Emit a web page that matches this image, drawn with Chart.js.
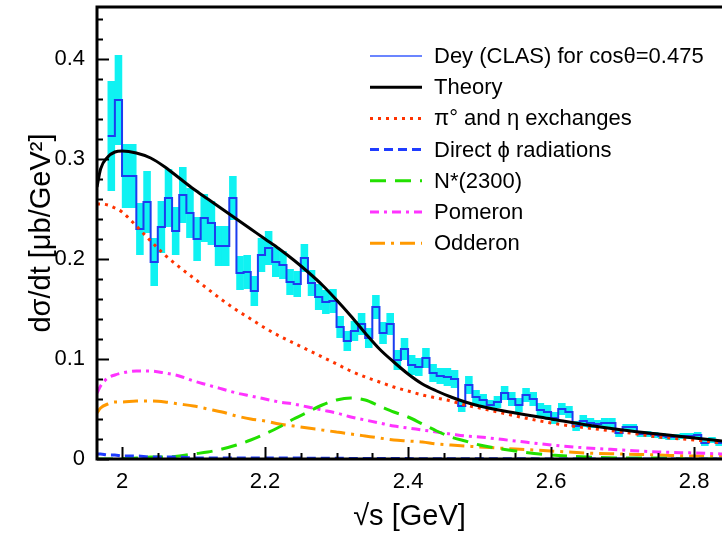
<!DOCTYPE html>
<html>
<head>
<meta charset="utf-8">
<title>phi photoproduction</title>
<script src="https://cdn.jsdelivr.net/npm/chart.js@4.4.1/dist/chart.umd.min.js"></script>
<style>
  html, body { margin: 0; padding: 0; background: #fff; }
  #wrap { width: 722px; height: 534px; overflow: hidden; }
</style>
</head>
<body>
<div id="wrap"><canvas id="dsdtChart" width="722" height="534"></canvas></div>
<script>
// CLAS (Dey) bins, 10 MeV wide starting at sqrt(s) = 1.98 GeV
const binStart = 1.98
const binWidth = 0.01
const clasValues = [
    0.323, 0.359, 0.283, 0.283, 0.230, 0.257, 0.197, 0.232, 0.261, 0.228,
    0.264, 0.246, 0.220, 0.241, 0.236, 0.213, 0.213, 0.261, 0.186, 0.187,
    0.168, 0.204, 0.211, 0.197, 0.194, 0.177, 0.175, 0.201, 0.176, 0.162,
    0.157, 0.158, 0.132, 0.118, 0.128, 0.135, 0.121, 0.152, 0.126, 0.135,
    0.099, 0.110, 0.094, 0.092, 0.101, 0.086, 0.083, 0.082, 0.080, 0.053,
    0.074, 0.062, 0.059, 0.054, 0.057, 0.066, 0.060, 0.054, 0.064, 0.060,
    0.049, 0.047, 0.041, 0.050, 0.047, 0.033, 0.038, 0.036, 0.035, 0.036,
    0.036, 0.026, 0.032, 0.032, 0.025, 0.025, 0.024, 0.023, 0.022, 0.022,
    0.023, 0.023, 0.024, 0.016, 0.019, 0.016
]
const clasErrors = [
    0.055, 0.045, 0.032, 0.032, 0.026, 0.031, 0.024, 0.026, 0.029, 0.024,
    0.028, 0.025, 0.022, 0.024, 0.022, 0.020, 0.020, 0.022, 0.017, 0.017,
    0.015, 0.017, 0.017, 0.015, 0.014, 0.013, 0.013, 0.014, 0.013, 0.013,
    0.012, 0.012, 0.011, 0.010, 0.010, 0.011, 0.010, 0.012, 0.011, 0.011,
    0.010, 0.011, 0.010, 0.009, 0.010, 0.009, 0.008, 0.009, 0.009, 0.006,
    0.009, 0.007, 0.006, 0.005, 0.006, 0.007, 0.007, 0.007, 0.007, 0.007,
    0.007, 0.007, 0.006, 0.006, 0.006, 0.005, 0.006, 0.005, 0.004, 0.005,
    0.005, 0.004, 0.003, 0.003, 0.003, 0.003, 0.003, 0.003, 0.003, 0.003,
    0.003, 0.003, 0.003, 0.003, 0.003, 0.003
]

// model curves, all sampled on the same sqrt(s) grid
const curveW = [1.965, 1.97, 1.98, 1.99, 2.00,
    2.02, 2.04, 2.06, 2.08, 2.10, 2.12, 2.14, 2.16, 2.18, 2.20, 2.22, 2.24, 2.26,
    2.28, 2.30, 2.32, 2.34, 2.36, 2.38, 2.40, 2.42, 2.44, 2.46, 2.48, 2.50,
    2.55, 2.60, 2.65, 2.70, 2.75, 2.80, 2.84]
const theory = [0.272, 0.290, 0.302, 0.307, 0.308,
    0.306, 0.301, 0.292, 0.281, 0.270, 0.260, 0.250, 0.240, 0.230, 0.220, 0.210, 0.199, 0.187,
    0.174, 0.159, 0.143, 0.126, 0.110, 0.097, 0.085, 0.075, 0.068, 0.062, 0.057, 0.053,
    0.046, 0.040, 0.034, 0.029, 0.025, 0.021, 0.018]
const pionEta = [0.255, 0.255, 0.254, 0.251, 0.247,
    0.233, 0.218, 0.204, 0.192, 0.181, 0.170, 0.159, 0.149, 0.140, 0.131, 0.123, 0.116, 0.109,
    0.102, 0.095, 0.088, 0.082, 0.077, 0.072, 0.068, 0.064, 0.061, 0.058, 0.054, 0.051,
    0.043, 0.036, 0.031, 0.027, 0.022, 0.019, 0.016]
const directPhi = [0.005, 0.005, 0.004, 0.004, 0.003,
    0.003, 0.002, 0.002, 0.002, 0.001, 0.001, 0.001, 0.001, 0.001, 0.001, 0.001, 0.001, 0.0008,
    0.0008, 0.0007, 0.0006, 0.0005, 0.0005, 0.0004, 0.0004, 0.0003, 0.0003, 0.0003, 0.0002, 0.0002,
    0.0002, 0.0001, 0.0001, 0.0001, 0.0001, 0.0001, 0.0001]
const nStar = [0, 0, 0, 0, 0.0005,
    0.001, 0.002, 0.002, 0.003, 0.005, 0.007, 0.010, 0.014, 0.019, 0.025, 0.032, 0.040, 0.047,
    0.054, 0.059, 0.061, 0.059, 0.053, 0.047, 0.042, 0.035, 0.028, 0.022, 0.018, 0.014,
    0.008, 0.004, 0.002, 0.001, 0.001, 0, 0]
const pomeron = [0.066, 0.073, 0.081, 0.084, 0.086,
    0.088, 0.088, 0.086, 0.083, 0.078, 0.074, 0.070, 0.066, 0.063, 0.060, 0.057, 0.055, 0.052,
    0.049, 0.046, 0.042, 0.039, 0.036, 0.033, 0.031, 0.029, 0.027, 0.025, 0.023, 0.022,
    0.018, 0.014, 0.011, 0.009, 0.007, 0.006, 0.005]
const odderon = [0.046, 0.051, 0.055, 0.057, 0.057,
    0.058, 0.058, 0.057, 0.055, 0.053, 0.050, 0.047, 0.043, 0.040, 0.038, 0.035, 0.033, 0.031,
    0.029, 0.027, 0.025, 0.023, 0.021, 0.019, 0.018, 0.017, 0.015, 0.014, 0.013, 0.012,
    0.010, 0.008, 0.006, 0.005, 0.004, 0.003, 0.003]

const xTicks = [2, 2.2, 2.4, 2.6, 2.8]
const yTicks = [0, 0.1, 0.2, 0.3, 0.4]

const FONT = "'Liberation Sans', Arial, Helvetica, sans-serif"
Chart.defaults.font.family = FONT
Chart.defaults.color = '#000'

// cyan error boxes and the blue step histogram
const nBins = clasValues.length
const errorBoxes = clasValues.map((v, i) => ({
    x: +(binStart + (i + 0.5) * binWidth).toFixed(3),
    y: [v - clasErrors[i], v + clasErrors[i]]
}))
const histSteps = clasValues.map((v, i) => ({ x: +(binStart + i * binWidth).toFixed(3), y: v }))
histSteps.push({ x: +(binStart + nBins * binWidth).toFixed(3), y: clasValues[nBins - 1] })

const curve = ys => ys.map((v, i) => ({ x: curveW[i], y: v }))

const modelLine = (label, ys, color, dash, order) => ({
    type: 'line',
    label: label,
    data: curve(ys),
    borderColor: color,
    borderWidth: 3,
    borderDash: dash,
    pointRadius: 0,
    fill: false,
    cubicInterpolationMode: 'monotone',
    order: order
})

// inward ticks, frame and the legend box
const framePlugin = {
    id: 'framePlugin',
    afterDatasetsDraw(chart) {
        const { ctx, chartArea: a, scales: { x, y } } = chart
        ctx.save()
        ctx.strokeStyle = '#000'
        ctx.lineWidth = 2
        ctx.setLineDash([])
        for (let k = 0; k <= 22; k++) {
            const py = Math.round(y.getPixelForValue(k * 0.02)) + 0.5
            const len = k % 5 === 0 ? 12 : 6
            ctx.beginPath()
            ctx.moveTo(a.left, py)
            ctx.lineTo(a.left + len, py)
            ctx.stroke()
        }
        for (let k = 0; k <= 16; k++) {
            const px = Math.round(x.getPixelForValue(2 + k * 0.05)) + 0.5
            const len = k % 4 === 0 ? 12 : 6
            ctx.beginPath()
            ctx.moveTo(px, a.bottom)
            ctx.lineTo(px, a.bottom - len)
            ctx.stroke()
        }
        ctx.lineWidth = 3
        ctx.beginPath()
        ctx.moveTo(a.right + 2, a.top)
        ctx.lineTo(a.left, a.top)
        ctx.lineTo(a.left, a.bottom)
        ctx.lineTo(a.right + 2, a.bottom)
        ctx.stroke()

        // legend
        const entries = chart.data.datasets.filter(d => d.label)
        ctx.font = '22px ' + FONT
        ctx.textBaseline = 'middle'
        ctx.fillStyle = '#000'
        entries.forEach((d, i) => {
            const ly = 56 + i * 31.2
            ctx.strokeStyle = d.legendColor || d.borderColor
            ctx.lineWidth = d.legendWidth || d.borderWidth
            ctx.setLineDash(d.borderDash || [])
            ctx.beginPath()
            ctx.moveTo(370, ly)
            ctx.lineTo(422, ly)
            ctx.stroke()
            ctx.fillText(d.label, 434, ly + 1)
        })
        ctx.restore()
    }
}

new Chart(document.getElementById('dsdtChart'), {
    type: 'line',
    data: {
        datasets: [
            {
                type: 'line',
                label: 'Dey (CLAS) for cosθ=0.475',
                data: histSteps,
                // each bin value holds from its left edge to the next edge
                stepped: 'before',
                borderColor: '#1c3cf0',
                borderWidth: 2,
                legendColor: '#3a5cff',
                legendWidth: 1.5,
                pointRadius: 0,
                fill: false,
                order: 8
            },
            modelLine('Theory', theory, '#000000', [], 0),
            modelLine('π° and η exchanges', pionEta, '#ff3300', [3, 5], 1),
            modelLine('Direct ϕ radiations', directPhi, '#1f3cff', [9, 5], 1),
            modelLine('N*(2300)', nStar, '#22e000', [16, 9], 1),
            modelLine('Pomeron', pomeron, '#ff33ff', [9, 5, 3, 5], 1),
            modelLine('Odderon', odderon, '#ff9900', [15, 6, 3, 6], 1),
            {
                type: 'bar',
                data: errorBoxes,
                backgroundColor: '#0ff2f2',
                borderWidth: 0,
                barPercentage: 1.06,
                categoryPercentage: 1,
                grouped: false,
                order: 9
            }
        ]
    },
    options: {
        responsive: false,
        animation: false,
        layout: { padding: { top: 7, right: 0, left: 0, bottom: 0 } },
        plugins: {
            legend: { display: false },
            tooltip: { enabled: false }
        },
        scales: {
            x: {
                type: 'linear',
                min: 1.965,
                max: 2.839,
                offset: false,
                grid: { display: false, drawTicks: false, offset: false },
                border: { display: false },
                afterBuildTicks: s => { s.ticks = xTicks.map(v => ({ value: v })) },
                afterFit: s => {
                    s.height = 75
                    s.paddingLeft = 0
                    s.paddingRight = 0
                },
                ticks: {
                    padding: 10,
                    maxRotation: 0,
                    font: { size: 22 },
                    callback: v => String(v)
                },
                title: {
                    display: true,
                    text: '√s [GeV]',
                    font: { size: 29 },
                    padding: { top: 0, bottom: 0 }
                }
            },
            y: {
                type: 'linear',
                min: 0,
                max: 0.452,
                grid: { display: false, drawTicks: false },
                border: { display: false },
                afterBuildTicks: s => { s.ticks = yTicks.map(v => ({ value: v })) },
                afterFit: s => {
                    s.width = 97
                    s.paddingTop = 0
                    s.paddingBottom = 0
                },
                ticks: {
                    padding: 12,
                    font: { size: 22 },
                    callback: v => String(v)
                },
                title: {
                    display: true,
                    text: 'dσ/dt [μb/GeV²]',
                    font: { size: 29 },
                    padding: { top: 25, bottom: 0 }
                }
            }
        }
    },
    plugins: [framePlugin]
})
</script>
</body>
</html>
